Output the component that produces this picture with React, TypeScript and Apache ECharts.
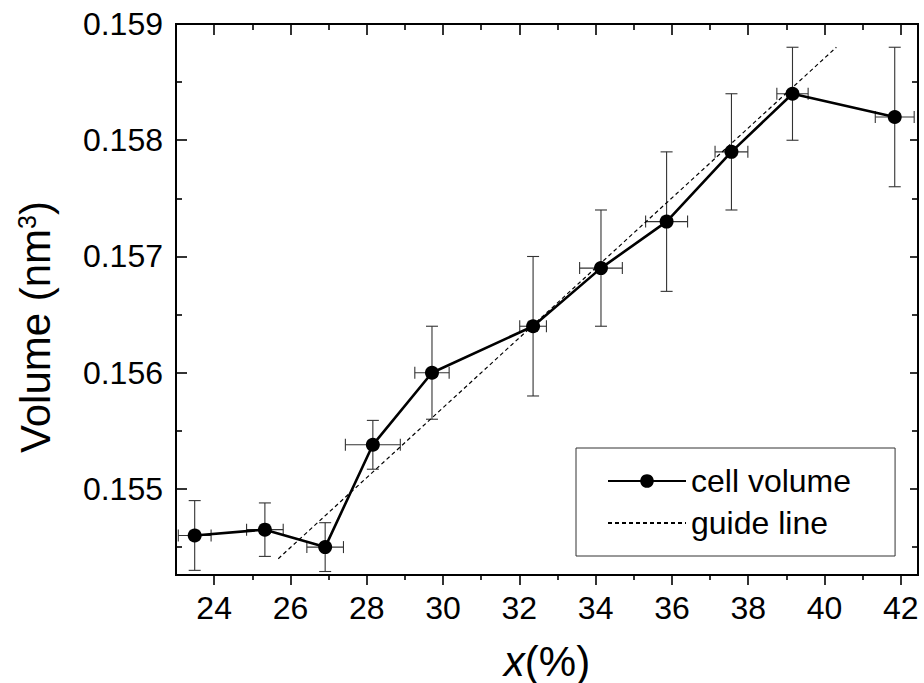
import React, { useEffect, useRef } from 'react';
import * as echarts from 'echarts';

// ---- data ----
const X_VALUES = [23.49, 25.33, 26.91, 28.16, 29.71, 32.36, 34.14, 35.86, 37.56, 39.16, 41.84];
const VOLUME = [0.15460, 0.15465, 0.15450, 0.15538, 0.15600, 0.15640, 0.15690, 0.15730, 0.15790, 0.15840, 0.15820];
const X_ERR = [0.43, 0.48, 0.48, 0.72, 0.45, 0.35, 0.56, 0.55, 0.43, 0.41, 0.51];
const Y_ERR = [0.0003, 0.00023, 0.00021, 0.00021, 0.0004, 0.0006, 0.0005, 0.0006, 0.0005, 0.0004, 0.0006];
const GUIDE_X = [25.68, 40.31];
const GUIDE_Y = [0.1544, 0.1588];

const X_MAJOR = [24, 26, 28, 30, 32, 34, 36, 38, 40, 42];
const X_MINOR = [25, 27, 29, 31, 33, 35, 37, 39, 41];
const Y_MAJOR = [0.155, 0.156, 0.157, 0.158, 0.159];
const Y_MINOR = [0.1545, 0.1555, 0.1565, 0.1575, 0.1585];
const X_RANGE = [23, 42.45];
const Y_RANGE = [0.15426, 0.159];

const FONT = '"Liberation Sans", Arial, Helvetica, sans-serif';

function xAxisDef(position: 'top' | 'bottom', ticks: number[], len: number, inside: boolean, labels: boolean) {
  return {
    type: 'value',
    position,
    min: X_RANGE[0],
    max: X_RANGE[1],
    axisLine: { show: true, onZero: false, lineStyle: { color: '#000', width: 2 } },
    axisTick: { show: true, inside, length: len, customValues: ticks, lineStyle: { color: '#000', width: 1.6 } },
    axisLabel: labels
      ? { show: true, customValues: ticks, fontSize: 32, fontFamily: FONT, color: '#000', margin: 17, formatter: (v: number) => String(Math.round(v)) }
      : { show: false },
    splitLine: { show: false },
  };
}

function yAxisDef(position: 'left' | 'right', ticks: number[], len: number, inside: boolean, labels: boolean) {
  return {
    type: 'value',
    position,
    min: Y_RANGE[0],
    max: Y_RANGE[1],
    axisLine: { show: true, onZero: false, lineStyle: { color: '#000', width: 2 } },
    axisTick: { show: true, inside, length: len, customValues: ticks, lineStyle: { color: '#000', width: 1.6 } },
    axisLabel: labels
      ? { show: true, customValues: ticks, fontSize: 32, fontFamily: FONT, color: '#000', margin: 13, formatter: (v: number) => v.toFixed(3) }
      : { show: false },
    splitLine: { show: false },
  };
}

export default function App() {
  const ref = useRef<HTMLDivElement>(null);

  useEffect(() => {
    const chart = echarts.init(ref.current as HTMLDivElement, null, { renderer: 'svg' });

    const pts = X_VALUES.map((x, i) => [x, VOLUME[i]]);
    const errData = X_VALUES.map((x, i) => [x, VOLUME[i], X_ERR[i], Y_ERR[i]]);
    const guide = GUIDE_X.map((x, i) => [x, GUIDE_Y[i]]);

    const option: any = {
      animation: false,
      backgroundColor: '#fff',
      textStyle: { fontFamily: FONT },
      grid: { left: 176, right: 6, top: 24, bottom: 108, containLabel: false, outerBoundsMode: 'none' },
      xAxis: [
        xAxisDef('bottom', X_MAJOR, 10, false, true),
        xAxisDef('bottom', X_MINOR, 5, false, false),
        xAxisDef('top', X_MAJOR, 11, true, false),
        xAxisDef('top', X_MINOR, 6, true, false),
      ],
      yAxis: [
        yAxisDef('left', Y_MAJOR, 11, true, true),
        yAxisDef('left', Y_MINOR, 6, true, false),
        yAxisDef('right', Y_MAJOR, 8, true, false),
        yAxisDef('right', Y_MINOR, 6, true, false),
      ],
      legend: {
        show: true,
        data: [
          { name: 'cell volume' },
          { name: 'guide line', itemStyle: { opacity: 0 } },
        ],
        orient: 'vertical',
        left: 576,
        top: 448,
        padding: [17, 44, 17, 31],
        itemWidth: 78,
        itemHeight: 17,
        itemGap: 10,
        borderColor: '#333',
        borderWidth: 1,
        textStyle: { fontSize: 32, lineHeight: 32, fontFamily: FONT, color: '#000' },
      },
      graphic: [
        {
          type: 'text',
          x: 35,
          y: 327,
          rotation: Math.PI / 2,
          style: {
            text: '{a|Volume (nm}{s|3}{a|)}',
            align: 'center',
            verticalAlign: 'middle',
            fill: '#000',
            rich: {
              a: { fontSize: 42, fontFamily: FONT, fill: '#000', lineHeight: 42 },
              s: { fontSize: 25, fontFamily: FONT, fill: '#000', verticalAlign: 'top', lineHeight: 25 },
            },
          },
        },
        {
          type: 'text',
          x: 547,
          y: 661,
          style: {
            text: '{i|x}{a|(%)}',
            align: 'center',
            verticalAlign: 'middle',
            fill: '#000',
            rich: {
              i: { fontSize: 42, fontFamily: FONT, fontStyle: 'italic', fill: '#000' },
              a: { fontSize: 42, fontFamily: FONT, fill: '#000' },
            },
          },
        },
      ],
      series: [
        {
          name: 'error bars',
          type: 'custom',
          xAxisIndex: 0,
          yAxisIndex: 0,
          z: 1,
          data: errData,
          renderItem: (params: any, api: any) => {
            const x = api.value(0);
            const y = api.value(1);
            const ex = api.value(2);
            const ey = api.value(3);
            const top = api.coord([x, y + ey]);
            const bot = api.coord([x, y - ey]);
            const lft = api.coord([x - ex, y]);
            const rgt = api.coord([x + ex, y]);
            const c = 6;
            const style = { stroke: '#333', lineWidth: 1.1, fill: null };
            const seg = (x1: number, y1: number, x2: number, y2: number) => ({
              type: 'line',
              shape: { x1, y1, x2, y2 },
              style,
            });
            return {
              type: 'group',
              children: [
                seg(top[0], top[1], bot[0], bot[1]),
                seg(top[0] - c, top[1], top[0] + c, top[1]),
                seg(bot[0] - c, bot[1], bot[0] + c, bot[1]),
                seg(lft[0], lft[1], rgt[0], rgt[1]),
                seg(lft[0], lft[1] - c, lft[0], lft[1] + c),
                seg(rgt[0], rgt[1] - c, rgt[0], rgt[1] + c),
              ],
            };
          },
        },
        {
          name: 'guide line',
          type: 'line',
          xAxisIndex: 0,
          yAxisIndex: 0,
          z: 2,
          data: guide,
          symbol: 'none',
          color: '#000',
          lineStyle: { color: '#000', width: 1.2, type: [4, 3] },
        },
        {
          name: 'cell volume',
          type: 'line',
          xAxisIndex: 0,
          yAxisIndex: 0,
          z: 3,
          data: pts,
          symbol: 'circle',
          symbolSize: 14,
          color: '#000',
          itemStyle: { color: '#000' },
          lineStyle: { color: '#000', width: 2.6 },
        },
      ],
    };

    chart.setOption(option);
    return () => chart.dispose();
  }, []);

  return (
    <div
      ref={ref}
      style={{ position: 'fixed', left: 0, top: 0, width: 924, height: 683, background: '#fff' }}
    />
  );
}
